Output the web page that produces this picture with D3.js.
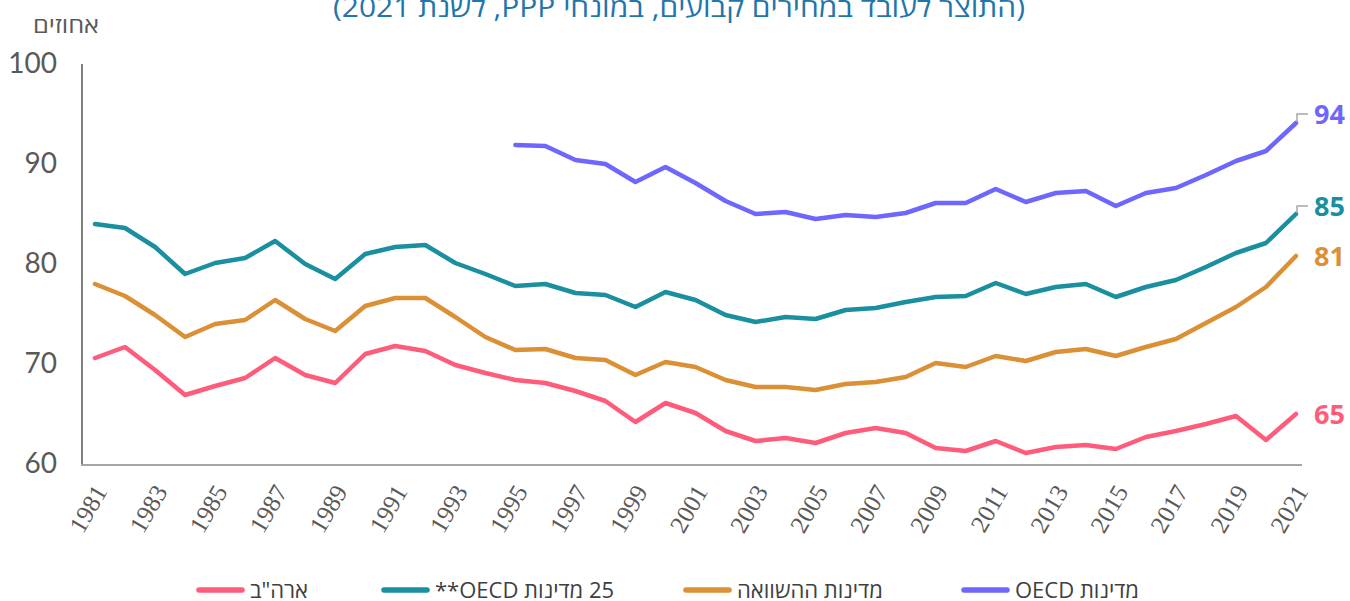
<!DOCTYPE html>
<html lang="he">
<head>
<meta charset="utf-8">
<script src="https://d3js.org/d3.v7.min.js"></script>
<style>
  body { margin: 0; background: #fff; }
  svg { display: block; }
</style>
</head>
<body>
<script>
// data
var years = d3.range(1981, 2022);
var usa = [70.6, 71.7, 69.4, 66.9, 67.8, 68.6, 70.6, 68.9, 68.1, 71.0, 71.8, 71.3, 69.9, 69.1,
  68.4, 68.1, 67.3, 66.3, 64.2, 66.1, 65.1, 63.3, 62.3, 62.6, 62.1, 63.1, 63.6, 63.1, 61.6,
  61.3, 62.3, 61.1, 61.7, 61.9, 61.5, 62.7, 63.3, 64.0, 64.8, 62.4, 65.0];
var oecd25 = [84.0, 83.6, 81.7, 79.0, 80.1, 80.6, 82.3, 80.0, 78.5, 81.0, 81.7, 81.9, 80.1, 79.0,
  77.8, 78.0, 77.1, 76.9, 75.7, 77.2, 76.4, 74.9, 74.2, 74.7, 74.5, 75.4, 75.6, 76.2, 76.7,
  76.8, 78.1, 77.0, 77.7, 78.0, 76.7, 77.7, 78.4, 79.7, 81.1, 82.1, 85.0];
var comparison = [78.0, 76.8, 74.9, 72.7, 74.0, 74.4, 76.4, 74.5, 73.3, 75.8, 76.6, 76.6, 74.7, 72.7,
  71.4, 71.5, 70.6, 70.4, 68.9, 70.2, 69.7, 68.4, 67.7, 67.7, 67.4, 68.0, 68.2, 68.7, 70.1,
  69.7, 70.8, 70.3, 71.2, 71.5, 70.8, 71.7, 72.5, 74.1, 75.7, 77.7, 80.8];
// OECD series starts in 1995
var oecdYears = d3.range(1995, 2022);
var oecd = [91.9, 91.8, 90.4, 90.0, 88.2, 89.7, 88.1, 86.3, 85.0, 85.2, 84.5, 84.9, 84.7, 85.1,
  86.1, 86.1, 87.5, 86.2, 87.1, 87.3, 85.8, 87.1, 87.6, 88.9, 90.3, 91.3, 94.1];
var yTicks = [60, 70, 80, 90, 100];
var xTicks = d3.range(1981, 2022, 2);

var title = "(התוצר לעובד במחירים קבועים, במונחי PPP, לשנת 2021)";
var yUnit = "אחוזים";

var series = [
  { name: "ארה\"ב", years: years, values: usa, color: "#ff5c7c", labelDy: 0 },
  { name: "25 מדינות OECD**", years: years, values: oecd25, color: "#1a8f9f", labelDy: -8 },
  { name: "מדינות ההשוואה", years: years, values: comparison, color: "#db9035", labelDy: 0 },
  { name: "מדינות OECD", years: oecdYears, values: oecd, color: "#6e66ff", labelDy: -9 }
];

var width = 1350, height = 601;

var x = d3.scaleLinear().domain([1981, 2021]).range([95, 1296]);
var y = d3.scaleLinear().domain([60, 100]).range([464, 64]);

var svg = d3.select("body").append("svg")
    .attr("width", width)
    .attr("height", height);

// title (top half cut off in the original)
svg.append("text")
    .attr("x", 679)
    .attr("y", 17)
    .attr("text-anchor", "middle")
    .attr("direction", "rtl")
    .attr("font-family", "Open Sans, DejaVu Sans, sans-serif")
    .attr("font-size", 27)
    .attr("textLength", 692)
    .attr("lengthAdjust", "spacingAndGlyphs")
    .attr("fill", "#1f76ab")
    .text(title);

svg.append("text")
    .attr("x", 66)
    .attr("y", 33)
    .attr("text-anchor", "middle")
    .attr("direction", "rtl")
    .attr("font-family", "Open Sans, DejaVu Sans, sans-serif")
    .attr("font-size", 22)
    .attr("textLength", 66)
    .attr("lengthAdjust", "spacingAndGlyphs")
    .attr("fill", "#595959")
    .text(yUnit);

// y axis
var yAxis = d3.axisLeft(y).tickValues(yTicks).tickSize(0).tickPadding(25);
var gy = svg.append("g")
    .attr("transform", "translate(82,0)")
    .call(yAxis);
gy.select(".domain").attr("stroke", "#7f7f7f").attr("stroke-width", 2)
    .attr("d", "M0," + (y(100)) + "V" + (y(60) + 1));
gy.selectAll("text")
    .attr("font-family", "Lato, sans-serif")
    .attr("font-size", 28)
    .attr("fill", "#595959");

// x axis
var xAxis = d3.axisBottom(x).tickValues(xTicks).tickFormat(d3.format("d")).tickSize(0);
var gx = svg.append("g")
    .attr("transform", "translate(0," + (y(60) + 1) + ")")
    .call(xAxis);
gx.select(".domain").attr("stroke", "#a6a6a6").attr("stroke-width", 2)
    .attr("d", "M81,0H1302");
gx.selectAll("text")
    .attr("font-family", "Liberation Serif, serif")
    .attr("font-size", 25)
    .attr("fill", "#595959")
    .attr("text-anchor", "end")
    .attr("dy", "0.35em")
    .attr("y", 0)
    .attr("transform", "translate(5,22) rotate(-60)");

// lines
var line = d3.line()
    .x(function(d) { return x(d[0]); })
    .y(function(d) { return y(d[1]); });

series.forEach(function(s) {
  var pts = s.years.map(function(yr, i) { return [yr, s.values[i]]; });
  svg.append("path")
      .datum(pts)
      .attr("fill", "none")
      .attr("stroke", s.color)
      .attr("stroke-width", 4.5)
      .attr("stroke-linejoin", "round")
      .attr("stroke-linecap", "round")
      .attr("d", line);

  var last = pts[pts.length - 1];
  var lx = x(last[0]), ly = y(last[1]);
  if (s.labelDy !== 0) {
    svg.append("path")
        .attr("fill", "none")
        .attr("stroke", "#a6a6a6")
        .attr("stroke-width", 1.5)
        .attr("d", "M" + (lx + 1) + "," + (ly - 1) + "V" + (ly + s.labelDy) + "H" + (lx + 12));
  }
  svg.append("text")
      .attr("x", lx + 18)
      .attr("y", ly + s.labelDy)
      .attr("dy", "0.36em")
      .attr("font-family", "Open Sans, sans-serif")
      .attr("font-weight", "bold")
      .attr("font-size", 27)
      .attr("fill", s.color)
      .text(Math.round(last[1]));
});

// legend
var legendX = [196, 381, 683, 961];
series.forEach(function(s, i) {
  var g = svg.append("g");
  g.append("line")
      .attr("x1", legendX[i] + 3).attr("x2", legendX[i] + 46)
      .attr("y1", 590).attr("y2", 590)
      .attr("stroke", s.color)
      .attr("stroke-width", 5.5)
      .attr("stroke-linecap", "round");
  var t = g.append("text")
      .attr("y", 590)
      .attr("dy", "0.35em")
      .attr("direction", "rtl")
      .attr("text-anchor", "middle")
      .attr("font-family", "Open Sans, sans-serif")
      .attr("font-size", 22)
      .attr("fill", "#404040")
      .text(s.name);
  var w = t.node().getComputedTextLength();
  t.attr("x", legendX[i] + 54 + w / 2);
});
</script>
</body>
</html>
